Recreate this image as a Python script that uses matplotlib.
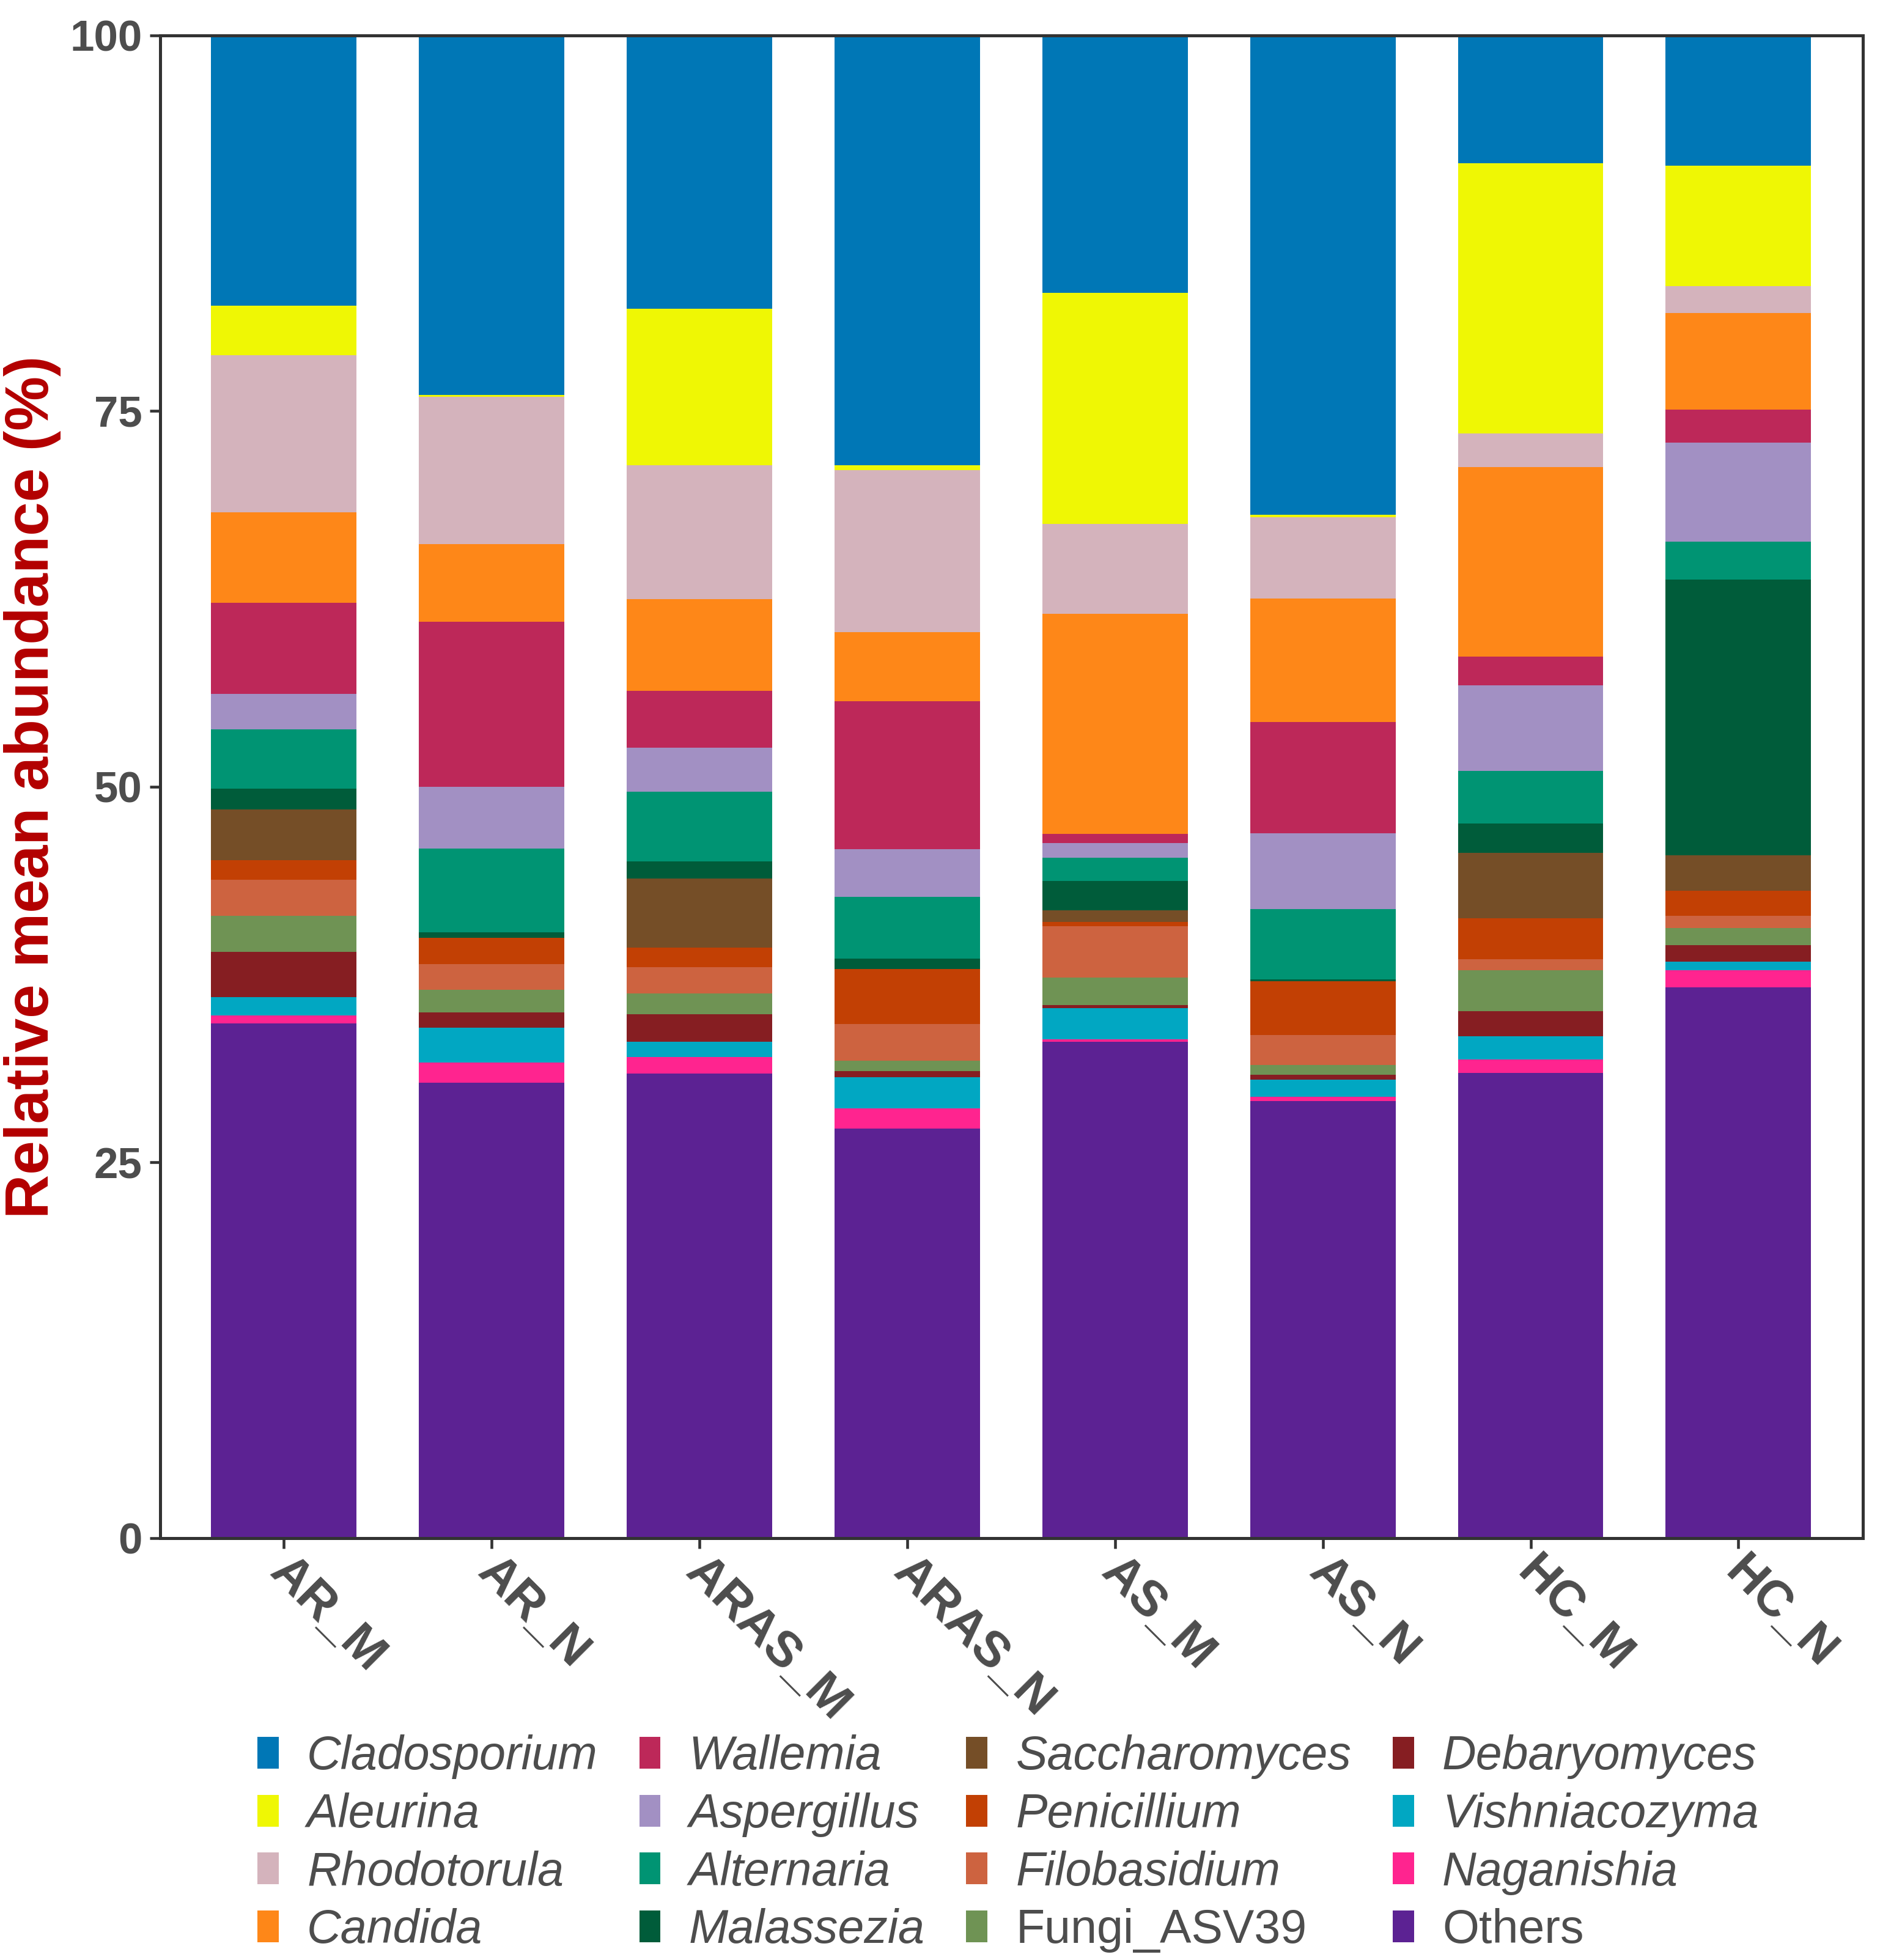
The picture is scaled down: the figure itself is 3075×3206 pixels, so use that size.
import numpy as np
import matplotlib.pyplot as plt
import matplotlib.transforms as mtransforms

# Групи зразків
samples = ['AR_M', 'AR_N', 'ARAS_M', 'ARAS_N', 'AS_M', 'AS_N', 'HC_M', 'HC_N']

# Роди (знизу вгору у стовпчику)
genera = ['Others', 'Naganishia', 'Vishniacozyma', 'Debaryomyces', 'Fungi_ASV39',
          'Filobasidium', 'Penicillium', 'Saccharomyces', 'Malassezia', 'Alternaria',
          'Aspergillus', 'Wallemia', 'Candida', 'Rhodotorula', 'Aleurina', 'Cladosporium']

colors = ['#5c2293', '#ff248f', '#01a7c2', '#861e22', '#6f9354',
          '#cd6340', '#c24004', '#754e27', '#005c3a', '#009473',
          '#a290c3', '#bd2859', '#fe8718', '#d4b3bc', '#eff704', '#0077b6']

# Відносна середня чисельність (%) для кожного роду по групах
others        = [34.25, 30.30, 30.92, 27.25, 33.04, 29.08, 30.95, 36.65]
naganishia    = [0.55, 1.35, 1.11, 1.34, 0.15, 0.27, 0.90, 1.12]
vishniacozyma = [1.20, 2.32, 1.01, 2.08, 2.07, 1.17, 1.55, 0.59]
debaryomyces  = [3.00, 1.03, 1.82, 0.41, 0.21, 0.31, 1.67, 1.09]
fungi_asv39   = [2.40, 1.50, 1.39, 0.68, 1.84, 0.67, 2.70, 1.16]
filobasidium  = [2.40, 1.70, 1.74, 2.45, 3.41, 1.97, 0.75, 0.81]
penicillium   = [1.30, 1.75, 1.31, 3.67, 0.29, 3.59, 2.73, 1.66]
saccharomyces = [3.40, 0.00, 4.59, 0.00, 0.76, 0.00, 4.36, 2.37]
malassezia    = [1.37, 0.35, 1.14, 0.69, 1.97, 0.12, 1.96, 18.35]
alternaria    = [3.95, 5.60, 4.64, 4.11, 1.54, 4.69, 3.50, 2.51]
aspergillus   = [2.36, 4.10, 2.93, 3.17, 0.98, 5.04, 5.68, 6.57]
wallemia      = [6.04, 10.97, 3.78, 9.85, 0.61, 7.41, 1.91, 2.22]
candida       = [6.03, 5.19, 6.12, 4.58, 14.65, 8.22, 12.62, 6.42]
rhodotorula   = [10.46, 9.78, 8.90, 10.79, 5.98, 5.40, 2.22, 1.77]
aleurina      = [3.28, 0.14, 10.41, 0.33, 15.34, 0.14, 17.98, 8.05]
cladosporium  = [18.01, 23.92, 18.19, 28.60, 17.16, 31.92, 8.52, 8.66]

values = [others, naganishia, vishniacozyma, debaryomyces, fungi_asv39,
          filobasidium, penicillium, saccharomyces, malassezia, alternaria,
          aspergillus, wallemia, candida, rhodotorula, aleurina, cladosporium]

plt.rcParams['font.family'] = ['Liberation Sans', 'DejaVu Sans']
grey = '#4d4d4d'

fig = plt.figure(figsize=(10.25, 10.687), dpi=300)
ax = fig.add_axes([0.0852, 0.2152, 0.9058, 0.7668])

x = np.arange(len(samples))
bottom = np.zeros(len(samples))
handles = []
for name, vals, col in zip(genera, values, colors):
    vals = np.array(vals)
    b = ax.bar(x, vals, width=0.70, bottom=bottom, color=col, linewidth=0, label=name)
    handles.append(b)
    bottom += vals

ax.set_xlim(-0.595, 7.6)
ax.set_ylim(0, 100)
ax.set_yticks([0, 25, 50, 75, 100])
ax.set_yticklabels(['0', '25', '50', '75', '100'], fontsize=17, fontweight='bold', color=grey)
ax.set_xticks(x)
ax.set_xticklabels(samples, fontsize=19.5, fontweight='bold', color=grey,
                   rotation=-45, ha='left', va='top', rotation_mode='anchor')
ax.tick_params(axis='both', length=4, width=1.1, color='#333333', pad=3)
ax.tick_params(axis='x', pad=3)
# невеликий зсув підписів осі X вправо та вгору
offset = mtransforms.ScaledTranslation(4 / 72, 3 / 72, fig.dpi_scale_trans)
for lbl in ax.get_xticklabels():
    lbl.set_transform(lbl.get_transform() + offset)
for sp in ax.spines.values():
    sp.set_linewidth(1.2)
    sp.set_color('#333333')

ax.set_ylabel('Relative mean abundance (%)', fontsize=24, fontweight='bold',
              color='#b30000')
ax.yaxis.set_label_coords(-0.058, 0.5)

# Легенда: 4 стовпчики, порядок зверху вниз
leg_handles = handles[::-1]
leg_labels = genera[::-1]
leg = fig.legend(leg_handles, leg_labels, ncol=4, loc='upper left',
                 bbox_to_anchor=(0.137, 0.115), frameon=False, fontsize=18.5,
                 handlelength=0.45, handleheight=0.66, handletextpad=0.6,
                 columnspacing=0.88, labelspacing=0.28, borderpad=0, borderaxespad=0)
for t in leg.get_texts():
    t.set_color(grey)
    if t.get_text() not in ('Fungi_ASV39', 'Others'):
        t.set_fontstyle('italic')

fig.savefig('out.png', dpi=300)
